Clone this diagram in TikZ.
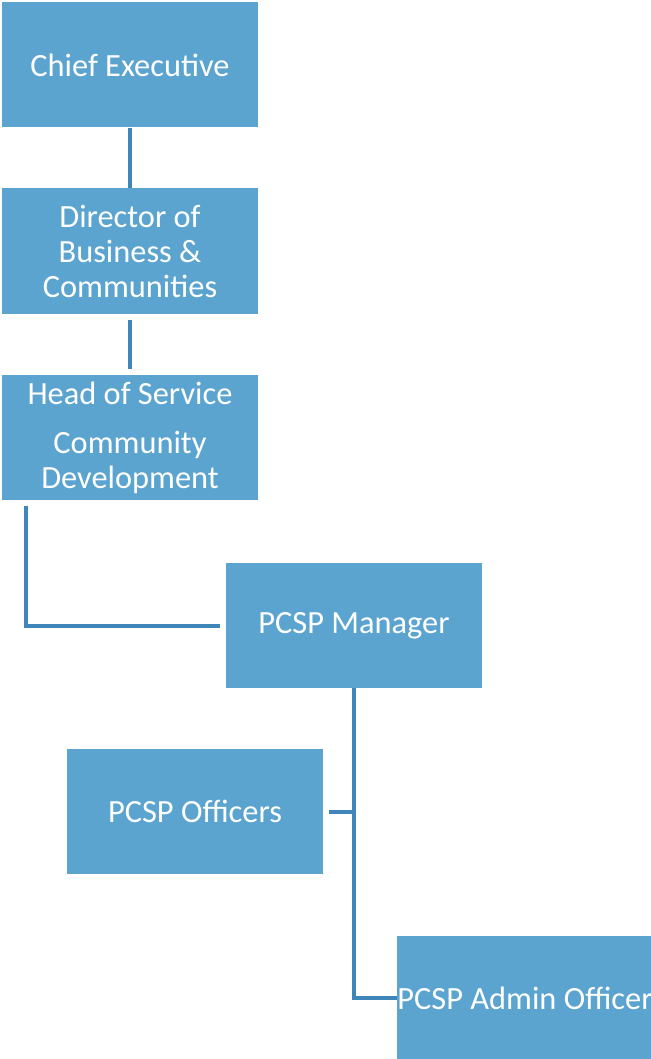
\documentclass[tikz,border=0pt]{standalone}
\usepackage{fontspec}
\setmainfont{Carlito}
\usetikzlibrary{calc, positioning}
\definecolor{boxblue}{RGB}{91,164,208}
\definecolor{lineblue}{RGB}{62,134,186}

\begin{document}
\begin{tikzpicture}[x=0.5pt, y=-0.5pt,
    post/.style={fill=boxblue, text=white, minimum width=128pt, minimum height=62.5pt,
        inner sep=0pt, align=center, font=\fontsize{16.2}{17.5}\selectfont},
    link/.style={draw=lineblue, line width=2pt}]
    \useasboundingbox (0,0) rectangle (650,1059);

    \node[post] (ceo) at (130, 65) {Chief Executive};
    \node[post] (dir) at (130, 251) {Director of\\Business \&\\Communities};
    \node[post] (head) at (130, 437.5) {Head of Service\\[7pt]Community\\Development};
    \node[post] (mgr) at (354, 625.5) {PCSP Manager};
    \node[post] (off) at (195, 811.5) {PCSP Officers};
    \node[post] (adm) at (525, 998) {PCSP Admin Officer};

    \draw[link, shorten <=3pt, shorten >=3pt]
    (ceo) -- (dir)
    (dir) -- (head);
    \draw[link, shorten <=3pt, shorten >=3pt] ($(head.south west)+(24,0)$) |- (mgr.west);
    \draw[link] (mgr.south) |- (adm.west);
    \draw[link, shorten <=3pt] (off.east) -- (off.east -| mgr.south);
\end{tikzpicture}
\end{document}
